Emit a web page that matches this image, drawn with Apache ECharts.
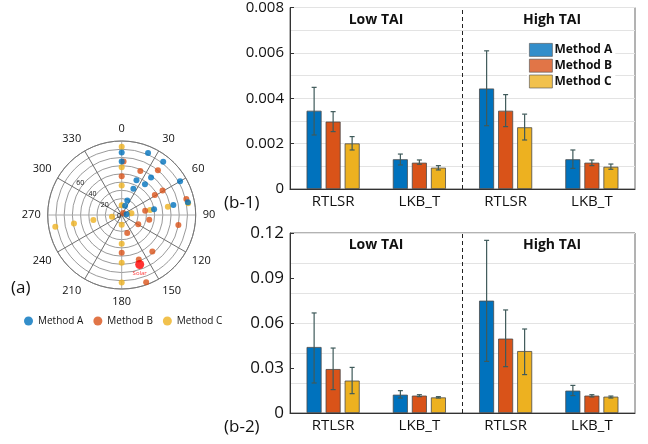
<!DOCTYPE html>
<html>
<head>
<meta charset="utf-8">
<script src="https://cdn.jsdelivr.net/npm/echarts@6/dist/echarts.min.js"></script>
<style>
  html, body { margin: 0; padding: 0; background: #fff; }
  #chart { width: 648px; height: 444px; }
</style>
</head>
<body>
<div id="chart"></div>
<script>
// ---- sky positions: [azimuth deg, zenith] per method ----
const skyA = [[0,76],[0,65],[23,82],[38,82],[60,82],[79,82],[38,58],[23,46],[37,47],[24,35],[21,19],[20,12],[82,6],[79,64],[80,40]];
const skyB = [[2,65],[0,47],[23,58],[39,70],[59,58],[59,47],[76,81],[80,29],[100,34],[119,23],[100,70],[163,23],[140,58],[159,58],[160,87],[180,46],[40,3]];
const skyC = [[0,83],[0,58],[0,36],[0,12],[80,82],[80,57],[80,35],[80,12],[180,82],[180,58],[180,35],[180,12],[260,82],[260,59],[260,35],[260,12]];
const solarPos = [[160,64]];

// ---- bar panels ----
const categories = ['RTLSR', 'LKB_T', 'RTLSR', 'LKB_T'];
const methods = ['Method A', 'Method B', 'Method C'];
const colors = ['#0072BD', '#D95319', '#EDB120'];

// panel b-1 means and error ranges [low, high]
const upperA = [0.00345, 0.00131, 0.00443, 0.00131];
const upperB = [0.00297, 0.00116, 0.00345, 0.00116];
const upperC = [0.00201, 0.00094, 0.00272, 0.00098];
const upperErrA = [[0.00238,0.00448],[0.00106,0.00154],[0.00279,0.00609],[0.00091,0.00172]];
const upperErrB = [[0.00253,0.00341],[0.00109,0.00128],[0.00275,0.00416],[0.00103,0.00128]];
const upperErrC = [[0.00172,0.00231],[0.00084,0.00103],[0.00216,0.00330],[0.00087,0.00110]];

// panel b-2 means and error ranges [low, high]
const lowerA = [0.0440, 0.0122, 0.0749, 0.0149];
const lowerB = [0.0293, 0.0116, 0.0496, 0.0116];
const lowerC = [0.0216, 0.0104, 0.0413, 0.0109];
const lowerErrA = [[0.0200,0.0667],[0.0100,0.0149],[0.0344,0.1151],[0.0116,0.0184]];
const lowerErrB = [[0.0156,0.0433],[0.0109,0.0122],[0.0309,0.0687],[0.0107,0.0122]];
const lowerErrC = [[0.0129,0.0304],[0.0100,0.0109],[0.0256,0.0560],[0.0100,0.0113]];

const upperTicks = { min: 0, max: 0.008, interval: 0.002 };
const lowerTicks = { min: 0, max: 0.12, interval: 0.03, gridStep: 0.02 };

const FONT = "'Open Sans', 'Liberation Sans', sans-serif";
const BAR_W = 15, BAR_GAP = '27%';
const OFFSETS = [-19, 0, 19];   // centre of each bar within its group

function toPolar(list) { return list.map(p => [p[1], p[0]]); }

function errRender(offset) {
  return function (params, api) {
    const lo = api.coord([api.value(0), api.value(1)]);
    const hi = api.coord([api.value(0), api.value(2)]);
    const x = lo[0] + offset, cap = 2.5;
    const st = { stroke: '#3f5a5a', lineWidth: 1.2 };
    return { type: 'group', children: [
      { type: 'line', shape: { x1: x, y1: lo[1], x2: x, y2: hi[1] }, style: st },
      { type: 'line', shape: { x1: x - cap, y1: lo[1], x2: x + cap, y2: lo[1] }, style: st },
      { type: 'line', shape: { x1: x - cap, y1: hi[1], x2: x + cap, y2: hi[1] }, style: st }
    ]};
  };
}

function barSeries(name, values, color, xi, yi) {
  return {
    name, type: 'bar', xAxisIndex: xi, yAxisIndex: yi,
    barWidth: BAR_W, barGap: BAR_GAP, data: values,
    itemStyle: { color, borderColor: '#4a4a4a', borderWidth: 0.8 },
    z: 2
  };
}
function errSeries(ranges, k, xi, yi) {
  return {
    type: 'custom', xAxisIndex: xi, yAxisIndex: yi, z: 5,
    renderItem: errRender(OFFSETS[k]),
    data: ranges.map((r, i) => [i, r[0], r[1]]),
    silent: true
  };
}

const chart = echarts.init(document.getElementById('chart'), null, { renderer: 'canvas' });

const catAxis = (gi) => ({
  type: 'category', gridIndex: gi, data: categories,
  axisLine: { show: true, lineStyle: { color: '#333' } },
  axisTick: { show: false },
  axisLabel: { color: '#111', fontSize: 15, fontFamily: FONT, margin: 5 },
  splitLine: { show: false }
});
const hiddenX = (gi) => ({ type: 'value', gridIndex: gi, min: 0, max: 4, show: false });

const series = [];
// sky plot: yellow first, then orange, blue on top
[[skyC, 2], [skyB, 1], [skyA, 0]].forEach(([pts, k]) => {
  series.push({
    name: methods[k], type: 'scatter', coordinateSystem: 'polar', polarIndex: 0,
    symbolSize: 6, data: toPolar(pts), itemStyle: { color: colors[k] }, z: 3
  });
});
series.push({
  type: 'scatter', coordinateSystem: 'polar', polarIndex: 0, symbolSize: 9,
  data: toPolar(solarPos), itemStyle: { color: '#ff0000' }, z: 4,
  label: { show: true, position: 'bottom', distance: 1, formatter: 'Solar', color: '#ff0000', fontSize: 6, fontFamily: FONT }
});

// bar panels
const up = [upperA, upperB, upperC], upErr = [upperErrA, upperErrB, upperErrC];
const lo = [lowerA, lowerB, lowerC], loErr = [lowerErrA, lowerErrB, lowerErrC];
for (let k = 0; k < 3; k++) series.push(barSeries(methods[k], up[k], colors[k], 0, 0));
for (let k = 0; k < 3; k++) series.push(barSeries(methods[k], lo[k], colors[k], 1, 1));
for (let k = 0; k < 3; k++) series.push(errSeries(upErr[k], k, 0, 0));
for (let k = 0; k < 3; k++) series.push(errSeries(loErr[k], k, 1, 1));

// dashed separators between the TAI groups
series.push({ type: 'line', xAxisIndex: 2, yAxisIndex: 0, symbol: 'none', silent: true, z: 1,
  data: [[2, upperTicks.min], [2, upperTicks.max]], lineStyle: { type: [4, 3], color: '#222', width: 1 } });
series.push({ type: 'line', xAxisIndex: 3, yAxisIndex: 1, symbol: 'none', silent: true, z: 1,
  data: [[2, lowerTicks.min], [2, lowerTicks.max]], lineStyle: { type: [4, 3], color: '#222', width: 1 } });

const option = {
  animation: false,
  backgroundColor: '#fff',
  textStyle: { fontFamily: FONT },
  polar: [
    { center: [121.7, 215], radius: 74 },
    { center: [121.7, 215], radius: 74 }
  ],
  angleAxis: [
    { polarIndex: 0, type: 'value', min: 0, max: 360, interval: 30, startAngle: 90, clockwise: true,
      axisLine: { show: true, lineStyle: { color: '#777', width: 1 } },
      axisTick: { show: false },
      axisLabel: { fontSize: 11, color: '#111', fontFamily: FONT, margin: 7,
        formatter: v => (v === 360 ? '' : String(v)) },
      splitLine: { show: true, lineStyle: { color: ['#aaaaaa', '#707070', '#707070'], width: 1 } } },
    { polarIndex: 1, type: 'value', min: 0, max: 360, startAngle: 138, clockwise: true,
      axisLine: { show: false }, axisTick: { show: false }, axisLabel: { show: false }, splitLine: { show: false } }
  ],
  radiusAxis: [
    { polarIndex: 0, min: 0, max: 90, interval: 10,
      axisLine: { show: false }, axisTick: { show: false }, axisLabel: { show: false },
      splitLine: { show: true, lineStyle: { color: '#808080', width: 0.8 } } },
    { polarIndex: 1, min: 0, max: 90, interval: 20,
      axisLine: { show: false }, axisTick: { show: false }, splitLine: { show: false },
      axisLabel: { fontSize: 7, color: '#111', margin: 1, formatter: v => (v <= 60 ? String(v) : '') } }
  ],
  grid: [
    { left: 290, top: 7, width: 345, height: 182, show: true, borderColor: '#666', borderWidth: 1, containLabel: false },
    { left: 290, top: 233, width: 345, height: 180, show: true, borderColor: '#666', borderWidth: 1, containLabel: false }
  ],
  xAxis: [catAxis(0), catAxis(1), hiddenX(0), hiddenX(1)],
  yAxis: [
    { type: 'value', gridIndex: 0, min: upperTicks.min, max: upperTicks.max, interval: upperTicks.interval,
      axisLine: { show: true, lineStyle: { color: '#333' } },
      axisTick: { show: true, inside: true, length: 4, lineStyle: { color: '#333' } },
      axisLabel: { color: '#111', fontSize: 15, fontFamily: FONT, margin: 6 },
      splitLine: { show: true, lineStyle: { color: '#e3e3e3' } },
      minorTick: { show: false, splitNumber: 2 },
      minorSplitLine: { show: true, lineStyle: { color: '#e3e3e3' } } },
    { type: 'value', gridIndex: 1, min: lowerTicks.min, max: lowerTicks.max, interval: lowerTicks.interval,
      axisLine: { show: true, lineStyle: { color: '#333' } },
      axisTick: { show: true, inside: true, length: 4, lineStyle: { color: '#333' } },
      axisLabel: { color: '#111', fontSize: 17, fontFamily: FONT, margin: 6 },
      splitLine: { show: false } },
    { type: 'value', gridIndex: 1, position: 'right', min: lowerTicks.min, max: lowerTicks.max, interval: lowerTicks.gridStep,
      axisLine: { show: false }, axisTick: { show: false }, axisLabel: { show: false },
      splitLine: { show: true, lineStyle: { color: '#e3e3e3' } } }
  ],
  legend: [
    { data: methods, orient: 'vertical', left: 527, top: 41, itemWidth: 23, itemHeight: 13, itemGap: 2,
      icon: 'rect', backgroundColor: '#fff', padding: [2, 3, 2, 2],
      itemStyle: { borderColor: '#555', borderWidth: 0.8 },
      textStyle: { fontSize: 12, fontWeight: 'bold', color: '#111', fontFamily: FONT, padding: [0, 0, 0, -3] } },
    { data: methods, orient: 'horizontal', left: 24, top: 316, itemWidth: 9, itemHeight: 9, itemGap: 10,
      icon: 'circle', padding: 0, itemStyle: { borderWidth: 0 },
      textStyle: { fontSize: 10, color: '#111', fontFamily: FONT } }
  ],
  graphic: [
    { type: 'text', x: 376, y: 20, style: { text: 'Low TAI', font: 'bold 14px ' + FONT, fill: '#111', align: 'center', verticalAlign: 'middle' } },
    { type: 'text', x: 552, y: 20, style: { text: 'High TAI', font: 'bold 14px ' + FONT, fill: '#111', align: 'center', verticalAlign: 'middle' } },
    { type: 'text', x: 376, y: 245, style: { text: 'Low TAI', font: 'bold 14px ' + FONT, fill: '#111', align: 'center', verticalAlign: 'middle' } },
    { type: 'text', x: 552, y: 245, style: { text: 'High TAI', font: 'bold 14px ' + FONT, fill: '#111', align: 'center', verticalAlign: 'middle' } },
    { type: 'text', left: 11, top: 280, style: { text: '(a)', font: '17px ' + FONT, fill: '#111' } },
    { type: 'text', left: 224, top: 195, style: { text: '(b-1)', font: '17px ' + FONT, fill: '#111' } },
    { type: 'text', left: 224, top: 419, style: { text: '(b-2)', font: '17px ' + FONT, fill: '#111' } }
  ],
  series
};
chart.setOption(option);
</script>
</body>
</html>
